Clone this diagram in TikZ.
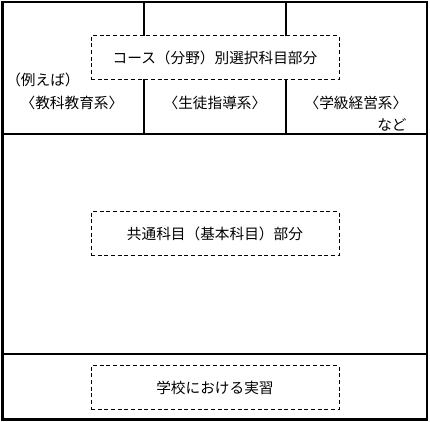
\documentclass[tikz,border=0pt]{standalone}
\usepackage{fontspec}
\setmainfont{Noto Sans CJK JP}
\begin{document}
\begin{tikzpicture}[x=0.75pt,y=0.75pt,yscale=-1,xscale=1,
    frame/.style={line width=1.7pt},
    partbox/.style={draw,dashed,dash pattern=on 3pt off 2pt,line width=0.6pt,minimum width=186pt,minimum height=32.5pt,inner sep=0pt},
    label/.style={inner sep=0pt,font=\fontsize{11pt}{13pt}\selectfont}]
        \useasboundingbox (0,0) rectangle (430,422);

        %Outer frame and dividers
        \coordinate (tl) at (2.5,2);
        \coordinate (br) at (427,419.5);
        \draw [frame] (tl) rectangle (br) ;
        \coordinate (midL) at (2.5,134);
        \coordinate (midR) at (427,134);
        \draw [frame] (midL) -- (midR) ;
        \coordinate (lowL) at (2.5,354);
        \coordinate (lowR) at (427,354);
        \draw [frame] (lowL) -- (lowR) ;
        \coordinate (v1t) at (144,2);
        \coordinate (v1b) at (144,134);
        \draw [frame] (v1t) -- (v1b) ;
        \coordinate (v2t) at (286,2);
        \coordinate (v2b) at (286,134);
        \draw [frame] (v2t) -- (v2b) ;

        %Dashed parts
        \node [partbox,fill=white,label] (select) at (215,57.5) {コース（分野）別選択科目部分};
        \node [partbox,label] (common) at (215,233.5) {共通科目（基本科目）部分};
        \node [partbox,label] (practice) at (215,387.5) {学校における実習};

        %Course labels
        \node [label] (example) at (43,79.5) {（例えば）};
        \node [label] (subject) at (72,103) {〈教科教育系〉};
        \node [label] (guidance) at (215,103) {〈生徒指導系〉};
        \node [label] (homeroom) at (356,103) {〈学級経営系〉};
        \node [label] (etc) at (392,125) {など};
\end{tikzpicture}
\end{document}
